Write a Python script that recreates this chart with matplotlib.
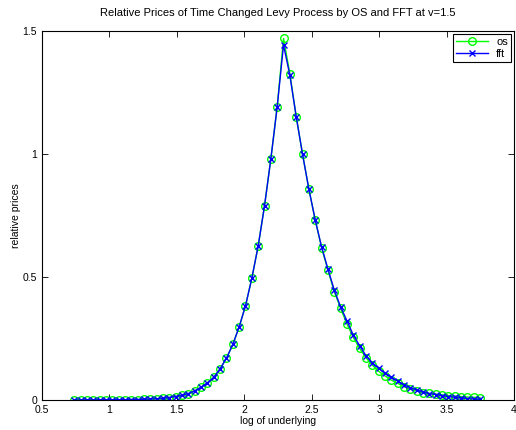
import matplotlib
matplotlib.use("Agg")
import matplotlib.pyplot as plt

plt.rcParams['font.family'] = ['Liberation Sans', 'DejaVu Sans']

# log of underlying (evenly spaced grid)
log_s = [0.740, 0.787, 0.834, 0.881, 0.928, 0.975, 1.022, 1.069, 1.116, 1.163,
         1.210, 1.257, 1.304, 1.351, 1.398, 1.445, 1.492, 1.539, 1.586, 1.633,
         1.680, 1.727, 1.774, 1.821, 1.868, 1.915, 1.962, 2.009, 2.056, 2.103,
         2.150, 2.197, 2.244, 2.291, 2.338, 2.385, 2.432, 2.479, 2.526, 2.573,
         2.620, 2.667, 2.714, 2.761, 2.808, 2.855, 2.902, 2.949, 2.996, 3.043,
         3.090, 3.137, 3.184, 3.231, 3.278, 3.325, 3.372, 3.419, 3.466, 3.513,
         3.560, 3.607, 3.654, 3.701, 3.748]

os_prices = [0.000, 0.000, 0.000, 0.000, 0.001, 0.001, 0.001, 0.001, 0.001, 0.002,
             0.002, 0.003, 0.004, 0.005, 0.007, 0.010, 0.014, 0.019, 0.026, 0.037,
             0.052, 0.070, 0.092, 0.127, 0.170, 0.226, 0.297, 0.383, 0.495, 0.626,
             0.789, 0.980, 1.192, 1.470, 1.326, 1.152, 0.999, 0.857, 0.732, 0.619,
             0.528, 0.441, 0.373, 0.309, 0.255, 0.210, 0.172, 0.142, 0.117, 0.098,
             0.081, 0.068, 0.054, 0.045, 0.037, 0.030, 0.027, 0.024, 0.021, 0.018,
             0.016, 0.014, 0.012, 0.011, 0.010]

fft_prices = [0.000, 0.000, 0.000, 0.000, 0.001, 0.001, 0.001, 0.001, 0.001, 0.002,
              0.002, 0.003, 0.004, 0.005, 0.007, 0.010, 0.014, 0.019, 0.026, 0.037,
              0.052, 0.070, 0.092, 0.127, 0.170, 0.226, 0.297, 0.383, 0.495, 0.626,
              0.789, 0.980, 1.192, 1.443, 1.320, 1.152, 0.999, 0.857, 0.732, 0.623,
              0.533, 0.447, 0.379, 0.322, 0.264, 0.221, 0.180, 0.152, 0.129, 0.109,
              0.093, 0.077, 0.062, 0.050, 0.041, 0.033, 0.026, 0.022, 0.018, 0.014,
              0.011, 0.008, 0.006, 0.004, 0.003]

fig = plt.figure(figsize=(5.16, 4.30), dpi=100)
ax = fig.add_axes([42 / 516, 1 - 400 / 430, 472 / 516, 369 / 430])

ax.plot(log_s, os_prices, color=(0, 1, 0), marker='o', markersize=5.5,
        markerfacecolor='none', linewidth=1, label='os')
ax.plot(log_s, fft_prices, color=(0, 0, 1), marker='x', markersize=4,
        linewidth=1, label='fft')

ax.set_xlim(0.5, 4)
ax.set_ylim(0, 1.5)
ax.set_xticks([0.5, 1, 1.5, 2, 2.5, 3, 3.5, 4])
ax.set_xticklabels(['0.5', '1', '1.5', '2', '2.5', '3', '3.5', '4'])
ax.set_yticks([0, 0.5, 1, 1.5])
ax.set_yticklabels(['0', '0.5', '1', '1.5'])
ax.tick_params(direction='in', top=True, right=True, labelsize=7.5, length=4, width=0.6)
for sp in ax.spines.values():
    sp.set_linewidth(0.8)

ax.set_title('Relative Prices of Time Changed Levy Process by OS and FFT at v=1.5',
             fontsize=8, pad=11)
ax.set_xlabel('log of underlying', fontsize=7.5, labelpad=1)
ax.set_ylabel('relative prices', fontsize=7.5, labelpad=1)

leg = ax.legend(loc='upper right', fontsize=8, fancybox=False, framealpha=1,
                edgecolor='black', handlelength=2.9, borderpad=0.3,
                labelspacing=0.15, handletextpad=0.7, borderaxespad=0.25)
leg.get_frame().set_linewidth(0.8)

fig.savefig('out.png', dpi=100)
